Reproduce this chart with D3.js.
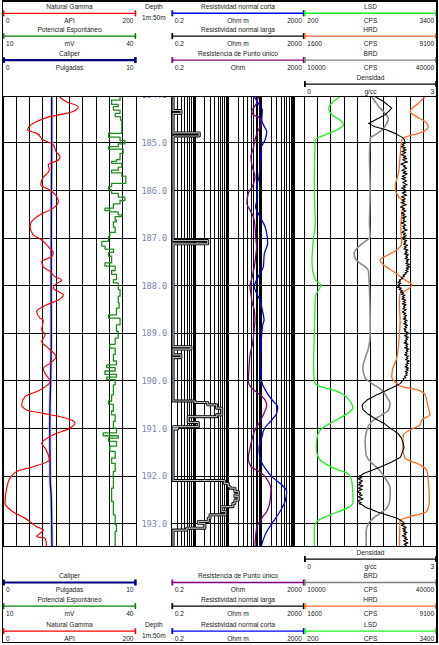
<!DOCTYPE html>
<html><head><meta charset="utf-8">
<script src="https://cdn.jsdelivr.net/npm/d3@7"></script>
<style>html,body{margin:0;padding:0;background:#fff}svg{display:block}</style>
</head><body><svg id="c" width="439" height="645"></svg>
<script>
// ---------------- DATA ----------------
const depthTicks = [184,185,186,187,188,189,190,191,192,193];
const curveNames = ["Natural Gamma","Potencial Espontáneo","Caliper",
  "Resistividad normal corta","Resistividad normal larga","Resistencia de Punto único",
  "LSD","HRD","BRD","Densidad"];
const curveUnits = ["API","mV","Pulgadas","Ohm m","Ohm m","Ohm","CPS","CPS","CPS","g/cc"];
const scaleMin = ["0","10","0","0.2","0.2","0.2","200","1600","10000","0"];
const scaleMax = ["200","40","10","2000","2000","2000","3400","9100","40000","3"];
const depthTitle = ["Depth","1m:50m"];

// [depth m, API]
const gamma = [[184.03,84.7],[184.14,95.8],[184.24,113.2],[184.35,103.3],[184.45,70.7],[184.55,50.7],[184.73,37.1],[184.80,50.7],[184.94,60.6],[185.04,75.6],[185.18,79.7],[185.29,85.7],[185.36,83.2],[185.46,68.1],[185.57,69.6],[185.74,59.7],[185.88,56.7],[185.99,70.7],[186.13,80.8],[186.23,83.2],[186.37,75.6],[186.51,55.6],[186.65,43.2],[186.76,40.6],[186.93,45.6],[187.04,58.2],[187.18,68.1],[187.32,75.6],[187.39,73.2],[187.49,58.2],[187.60,60.6],[187.70,70.7],[187.81,78.2],[187.88,88.3],[187.98,78.2],[188.05,75.6],[188.19,90.7],[188.30,83.2],[188.40,65.7],[188.54,50.7],[188.68,55.6],[188.72,60.6],[188.93,58.2],[189.03,63.2],[189.17,58.2],[189.31,68.1],[189.49,79.7],[189.63,70.7],[189.73,60.6],[189.84,63.2],[190.01,70.7],[190.19,55.6],[190.33,33.1],[190.50,28.1],[190.61,35.6],[190.68,60.6],[190.75,85.7],[190.82,103.3],[190.89,108.3],[190.99,100.8],[191.13,75.6],[191.31,58.2],[191.41,63.2],[191.66,69.6],[191.80,45.6],[191.90,20.6],[192.04,10.5],[192.25,5.6],[192.57,3.0],[192.75,15.5],[192.88,33.1],[193.06,50.7],[193.13,60.6],[193.27,50.7],[193.30,63.2],[193.48,65.7]];

// [depth m, mV] (step samples)
const sp = [[184.03,36.4],[184.10,34.5],[184.19,36.0],[184.24,34.9],[184.31,36.4],[184.38,35.3],[184.45,36.5],[184.52,36.8],[184.80,33.8],[184.88,36.4],[184.95,37.5],[185.02,36.0],[185.08,33.8],[185.13,37.1],[185.22,36.4],[185.35,35.6],[185.39,34.5],[185.43,36.8],[185.51,36.0],[185.57,34.5],[185.63,36.8],[185.70,37.7],[185.85,34.5],[185.92,33.8],[185.98,34.5],[186.06,36.0],[186.14,37.5],[186.21,36.4],[186.28,34.9],[186.37,33.0],[186.42,34.1],[186.45,36.0],[186.51,36.8],[186.55,35.3],[186.62,35.6],[186.66,34.9],[186.77,35.3],[186.88,34.1],[186.97,33.8],[187.07,32.3],[187.17,33.0],[187.23,34.9],[187.30,33.8],[187.38,34.5],[187.52,33.0],[187.59,35.3],[187.68,34.5],[187.76,35.6],[187.87,34.9],[187.94,36.0],[188.08,36.4],[188.22,36.0],[188.36,36.2],[188.47,35.6],[188.61,33.8],[188.68,36.4],[188.82,35.6],[188.96,36.0],[189.10,35.3],[189.23,34.1],[189.31,35.3],[189.44,34.9],[189.58,35.6],[189.66,33.4],[189.72,35.3],[189.79,33.0],[189.86,35.6],[189.92,33.4],[189.97,35.3],[190.08,34.9],[190.29,34.5],[190.42,33.8],[190.49,34.9],[190.63,34.5],[190.71,35.3],[190.85,34.9],[190.99,35.6],[191.09,32.6],[191.15,36.0],[191.20,33.8],[191.27,35.6],[191.37,34.1],[191.48,35.3],[191.62,34.5],[191.73,35.3],[191.90,34.9],[192.25,34.5],[192.53,34.9],[192.81,35.3],[193.02,35.6],[193.16,35.3],[193.48,35.8]];

// [depth m, inches]
const caliper = [[184.03,3.66],[185.0,3.66],[186.0,3.64],[187.0,3.63],[188.0,3.62],[189.0,3.63],[189.5,3.61],[190.0,3.58],[190.6,3.53],[191.0,3.52],[191.5,3.53],[192.1,3.55],[192.4,3.62],[193.0,3.66],[193.48,3.68]];

// [depth m, ohm m]
const resShort = [[184.03,62],[184.17,82],[184.31,108],[184.52,104],[184.66,125],[184.76,147],[184.94,131],[185.11,99],[185.29,99],[185.50,92],[185.71,86],[185.92,73],[186.13,78],[186.34,68],[186.55,92],[186.76,131],[186.90,147],[187.11,157],[187.32,125],[187.60,116],[187.81,82],[188.02,62],[188.16,73],[188.30,92],[188.51,108],[188.72,122],[188.82,111],[189.03,104],[189.24,99],[189.52,92],[189.80,99],[190.01,104],[190.29,164],[190.43,233],[190.54,315],[190.68,293],[190.82,207],[191.00,125],[191.20,104],[191.41,86],[191.62,92],[191.83,131],[192.04,233],[192.18,415],[192.32,588],[192.53,524],[192.74,370],[192.95,233],[193.16,147],[193.48,100]];

// [depth m, ohm m] (step samples)
const resLong = [[184.03,0.22],[184.32,0.38],[184.38,0.22],[184.79,1.36],[184.855,0.22],[187.05,2.44],[187.12,0.22],[189.28,0.76],[189.33,0.22],[189.45,0.38],[189.51,0.22],[190.42,1.01],[190.45,2.44],[190.50,4.55],[190.57,6.44],[190.71,4.55],[190.75,0.63],[190.87,1.27],[190.96,0.22],[190.99,0.30],[191.01,0.22],[192.09,7.72],[192.15,10.2],[192.22,11.5],[192.25,16.2],[192.32,20.4],[192.39,16.2],[192.43,20.4],[192.50,16.2],[192.57,14.0],[192.64,6.44],[192.74,8.5],[192.81,2.86],[192.88,2.54],[192.95,1.27],[192.99,2.0],[193.09,0.57],[193.13,0.22],[193.48,0.22]];

// [depth m, ohm]
const resPoint = [[184.03,82],[184.17,73],[184.34,52],[184.41,58],[184.48,92],[184.59,104],[184.73,82],[184.94,65],[185.11,58],[185.29,49],[185.50,54],[185.71,65],[185.92,54],[186.06,41],[186.27,37],[186.41,46],[186.55,58],[186.76,65],[186.97,68],[187.18,73],[187.39,68],[187.60,62],[187.81,54],[188.02,46],[188.16,49],[188.37,54],[188.51,62],[188.72,65],[188.89,62],[189.24,54],[189.45,46],[189.73,43],[190.01,41],[190.15,52],[190.29,92],[190.40,131],[190.50,147],[190.71,116],[190.85,92],[191.03,65],[191.20,54],[191.41,46],[191.62,41],[191.80,49],[191.87,73],[191.97,116],[192.11,164],[192.25,198],[192.53,185],[192.74,147],[192.88,104],[193.09,73],[193.48,65]];

// [depth m, CPS]
const lsd = [[184.03,1052],[184.13,907],[184.27,787],[184.41,867],[184.52,1068],[184.62,1148],[184.73,988],[184.83,706],[184.94,465],[185.29,449],[185.99,441],[186.69,465],[186.97,425],[187.53,385],[187.88,465],[187.98,602],[188.09,546],[188.23,465],[188.72,449],[189.03,441],[189.66,425],[190.01,441],[190.12,586],[190.19,907],[190.29,1148],[190.43,1309],[190.57,1374],[190.64,1309],[190.85,907],[191.03,586],[191.20,506],[191.41,489],[191.62,546],[191.83,907],[191.97,1293],[192.11,1349],[192.39,1374],[192.57,1374],[192.67,1229],[192.81,827],[192.95,506],[193.09,441],[193.48,441]];

const hrd = [[184.03,8439],[184.17,8062],[184.34,7591],[184.45,7968],[184.55,8439],[184.66,8627],[184.79,8156],[184.87,7403],[184.94,7120],[185.29,7026],[185.64,6932],[185.92,6743],[186.13,6932],[186.23,7214],[186.48,7120],[186.83,7064],[187.11,7120],[187.25,6837],[187.35,6366],[187.46,5895],[187.56,6084],[187.70,6649],[187.88,7308],[187.98,7685],[188.09,7403],[188.16,7026],[188.37,6988],[188.72,7026],[189.03,6988],[189.52,6837],[189.73,6611],[189.91,6555],[190.05,6837],[190.12,7120],[190.19,8062],[190.29,8439],[190.57,8627],[190.71,8721],[190.82,8250],[190.92,8156],[191.03,7591],[191.13,7214],[191.41,7176],[191.62,7308],[191.76,8156],[191.87,8533],[192.11,8627],[192.53,8684],[192.74,8533],[192.85,7591],[192.92,7026],[193.48,6988]];

const brd = [[184.03,25300],[184.13,26050],[184.27,27180],[184.38,28310],[184.48,29070],[184.59,28690],[184.73,27560],[184.83,26050],[184.90,24920],[185.29,24770],[185.99,24920],[186.69,24770],[186.97,24920],[187.07,23790],[187.18,22280],[187.32,21300],[187.42,21530],[187.53,22660],[187.60,23790],[187.70,24540],[188.09,24770],[188.72,24920],[189.03,24920],[189.31,24540],[189.52,23790],[189.73,23260],[189.94,23790],[190.05,25300],[190.19,27560],[190.36,28840],[190.47,29440],[190.61,29070],[190.71,27560],[190.82,25670],[191.03,24170],[191.27,23790],[191.55,24020],[191.69,24920],[191.87,27030],[192.04,28310],[192.25,29440],[192.46,29440],[192.67,28690],[192.85,26050],[192.99,24540],[193.16,24020],[193.48,24020]];

// [depth m, g/cc]
const density = [[184.03,1.605],[184.13,1.793],[184.27,1.982],[184.41,1.831],[184.52,1.605],[184.59,1.454],[184.66,1.605],[184.73,1.869],[184.80,2.057],[184.90,2.246],[184.95,2.27],
[185.00,2.29],[185.03,2.22],[185.05,2.26],[185.08,2.20],[185.10,2.29],[185.13,2.24],[185.15,2.31],[185.18,2.21],[185.20,2.30],[185.23,2.25],[185.25,2.20],[185.28,2.30],[185.30,2.24],[185.33,2.32],[185.35,2.23],[185.38,2.28],[185.40,2.34],[185.43,2.22],[185.45,2.19],[185.48,2.29],[185.50,2.25],[185.53,2.32],[185.55,2.27],[185.58,2.21],[185.60,2.30],[185.63,2.24],[185.65,2.33],[185.68,2.27],[185.70,2.22],[185.73,2.30],[185.75,2.21],[185.78,2.28],[185.80,2.31],[185.83,2.23],[185.85,2.27],[185.88,2.33],[185.90,2.24],[185.93,2.29],[185.95,2.21],[185.98,2.28],
[186.00,2.24],[186.03,2.30],[186.05,2.22],[186.08,2.27],[186.10,2.32],[186.13,2.20],[186.15,2.25],[186.18,2.29],[186.20,2.22],[186.23,2.28],[186.25,2.19],[186.28,2.26],[186.30,2.31],[186.33,2.21],[186.35,2.18],[186.38,2.27],[186.40,2.23],[186.43,2.30],[186.45,2.25],[186.48,2.20],[186.50,2.28],[186.53,2.23],[186.55,2.31],[186.58,2.22],[186.60,2.27],[186.63,2.24],[186.65,2.30],[186.68,2.20],[186.70,2.25],[186.73,2.30],[186.75,2.23],[186.78,2.28],[186.80,2.24],[186.83,2.33],[186.85,2.26],[186.88,2.21],[186.90,2.29],[186.93,2.25],[186.95,2.31],[186.98,2.23],
[187.00,2.29],[187.03,2.24],[187.05,2.32],[187.08,2.26],[187.10,2.30],[187.13,2.25],[187.15,2.34],[187.18,2.27],[187.20,2.31],[187.23,2.26],[187.25,2.35],[187.28,2.29],[187.30,2.33],[187.33,2.27],[187.35,2.36],[187.38,2.30],[187.40,2.34],[187.43,2.28],[187.45,2.37],[187.48,2.31],[187.50,2.35],[187.53,2.30],[187.55,2.38],[187.58,2.32],[187.60,2.39],[187.63,2.31],[187.65,2.36],[187.68,2.30],[187.70,2.35],[187.73,2.28],[187.75,2.31],[187.78,2.24],[187.80,2.27],[187.83,2.20],[187.85,2.23],[187.88,2.15],[187.90,2.18],[187.93,2.12],[187.95,2.19],[187.98,2.13],
[188.00,2.17],[188.03,2.11],[188.05,2.20],[188.08,2.15],[188.10,2.22],[188.13,2.18],[188.15,2.25],[188.18,2.20],[188.20,2.28],[188.23,2.22],[188.25,2.27],[188.28,2.21],[188.30,2.30],[188.33,2.24],[188.35,2.29],[188.38,2.22],[188.40,2.31],[188.43,2.25],[188.45,2.28],[188.48,2.23],[188.50,2.31],[188.53,2.26],[188.55,2.22],[188.58,2.30],[188.60,2.25],[188.63,2.32],[188.65,2.26],[188.68,2.30],[188.70,2.24],[188.73,2.33],[188.75,2.27],[188.78,2.31],[188.80,2.25],[188.83,2.34],[188.85,2.28],[188.88,2.32],[188.90,2.26],[188.93,2.30],[188.95,2.27],[188.98,2.35],
[189.00,2.29],[189.03,2.33],[189.05,2.27],[189.08,2.36],[189.10,2.30],[189.13,2.34],[189.15,2.28],[189.18,2.32],[189.20,2.26],[189.23,2.35],[189.25,2.30],[189.28,2.34],[189.30,2.27],[189.33,2.37],[189.35,2.31],[189.38,2.35],[189.40,2.29],[189.43,2.33],[189.45,2.27],[189.48,2.36],[189.50,2.31],[189.53,2.35],[189.55,2.29],[189.58,2.38],[189.60,2.32],[189.63,2.36],[189.65,2.30],[189.68,2.34],[189.70,2.28],[189.73,2.36],[189.75,2.31],[189.78,2.35],[189.80,2.29],[189.83,2.34],[189.85,2.30],[189.88,2.33],[189.90,2.27],[189.93,2.30],[189.95,2.24],[189.98,2.25],
[190.00,2.22],[190.05,2.18],[190.10,2.08],[190.20,1.86],[190.30,1.62],[190.40,1.42],[190.50,1.31],[190.60,1.33],[190.70,1.45],[190.80,1.62],[190.90,1.82],[191.00,1.96],[191.10,2.12],[191.20,2.20],[191.30,2.24],[191.40,2.26],[191.50,2.22],[191.60,2.18],[191.70,1.98],[191.80,1.74],[191.87,1.55],[191.92,1.40],[191.95,1.33],
[191.98,1.29],[192.00,1.24],[192.03,1.30],[192.05,1.22],[192.08,1.27],[192.10,1.32],[192.13,1.24],[192.15,1.29],[192.18,1.21],[192.20,1.33],[192.23,1.26],[192.25,1.23],[192.28,1.31],[192.30,1.25],[192.33,1.20],[192.35,1.28],[192.38,1.24],[192.40,1.31],[192.43,1.22],[192.45,1.27],[192.48,1.33],[192.50,1.25],[192.53,1.21],[192.55,1.29],[192.58,1.24],[192.60,1.31],[192.65,1.38],[192.70,1.52],[192.75,1.66],[192.80,1.82],[192.85,2.00],[192.90,2.14],[192.95,2.22],
[193.00,2.28],[193.03,2.20],[193.05,2.26],[193.08,2.31],[193.10,2.23],[193.13,2.29],[193.15,2.24],[193.18,2.33],[193.20,2.26],[193.23,2.30],[193.25,2.22],[193.28,2.31],[193.30,2.27],[193.33,2.34],[193.35,2.25],[193.38,2.30],[193.40,2.35],[193.43,2.26],[193.45,2.31],[193.48,2.28]];

// ---------------- LAYOUT ----------------
const svg = d3.select("#c");
const FONT = "'Liberation Sans', Arial, sans-serif";
const Y0 = 96.7, Y1 = 546.7;
const T = [[3,136],[171.7,304.3],[304.3,436.7]];
const TD = [136,171.7];
const y = d3.scaleLinear().domain([184.03,193.48]).range([Y0,Y1]);

const xGR  = d3.scaleLinear().domain([0,200]).range(T[0]);
const xSP  = d3.scaleLinear().domain([10,40]).range(T[0]);
const xCAL = d3.scaleLinear().domain([0,10]).range(T[0]);
const xRes = d3.scaleLog().domain([0.2,2000]).range(T[1]);
const xLSD = d3.scaleLinear().domain([200,3400]).range(T[2]);
const xHRD = d3.scaleLinear().domain([1600,9100]).range(T[2]);
const xBRD = d3.scaleLinear().domain([10000,40000]).range(T[2]);
const xDEN = d3.scaleLinear().domain([0,3]).range(T[2]);

const defs = svg.append("defs");
function clip(id,x0,x1){
  defs.append("clipPath").attr("id",id).append("rect")
    .attr("x",x0).attr("y",Y0).attr("width",x1-x0).attr("height",Y1-Y0);
}
clip("c0",T[0][0],T[0][1]); clip("c1",T[1][0],T[1][1]); clip("c2",T[2][0],T[2][1]); clip("cd",TD[0],TD[1]);

// ---------- grid ----------
const grid = svg.append("g").attr("stroke","#000").attr("shape-rendering","crispEdges");
[0,2].forEach(ti=>{
  const gx = d3.scaleLinear().domain([0,10]).range(T[ti]);
  gx.ticks(10).forEach(v=>{
    grid.append("line").attr("x1",gx(v)).attr("x2",gx(v)).attr("y1",Y0).attr("y2",Y1).attr("stroke-width",1);
  });
});
// log grid
const logVals = [];
[0.1,1,10,100,1000].forEach(dec=>{ for(let k=1;k<=9;k++){ const v=+(k*dec).toPrecision(3); if(v>=0.2 && v<=2000) logVals.push(v);} });
logVals.forEach(v=>{
  const major = [1,10,100,1000].includes(v);
  grid.append("line").attr("x1",xRes(v)).attr("x2",xRes(v)).attr("y1",Y0).attr("y2",Y1)
    .attr("stroke-width", major?2:1);
});
grid.append("line").attr("x1",xRes(2000)).attr("x2",xRes(2000)).attr("y1",Y0).attr("y2",Y1).attr("stroke-width",1);
// meter lines
const inDom = depthTicks.filter(d=>y(d)>=Y0 && y(d)<=Y1);
T.forEach(tr=>{
  inDom.forEach(d=>{
    grid.append("line").attr("x1",tr[0]).attr("x2",tr[1]).attr("y1",y(d)).attr("y2",y(d)).attr("stroke-width",1);
  });
});

// ---------- depth labels ----------
const dl = svg.append("g").attr("clip-path","url(#cd)");
depthTicks.forEach(d=>{
  dl.append("text").attr("x",(TD[0]+TD[1])/2+0.5).attr("y",y(d)).attr("dy","0.35em")
    .attr("text-anchor","middle").attr("font-family","'DejaVu Sans Mono', monospace")
    .attr("font-size",8.6).attr("fill","#7886ad").text(d3.format(".1f")(d));
});

// ---------- curves ----------
function draw(data, xs, clipId, color, w, curve){
  const line = d3.line().x(p=>xs(p[1])).y(p=>y(p[0])).curve(curve||d3.curveLinear);
  return svg.append("path").attr("clip-path",`url(#${clipId})`).attr("d",line(data))
    .attr("fill","none").attr("stroke",color).attr("stroke-width",w).attr("stroke-linejoin","round");
}
draw(sp, xSP, "c0", "#1e8c1e", 1.3, d3.curveStepBefore);
draw(caliper, xCAL, "c0", "#c4c4ec", 3, d3.curveMonotoneY);
draw(caliper, xCAL, "c0", "#000080", 1.4, d3.curveMonotoneY);
draw(gamma, xGR, "c0", "#ff0000", 1.2, d3.curveMonotoneY);

draw(resLong, xRes, "c1", "#000", 3, d3.curveStepBefore);
draw(resLong, xRes, "c1", "#b4b4b4", 1.2, d3.curveStepBefore);
draw(resPoint, xRes, "c1", "#800080", 1.3, d3.curveMonotoneY);
draw(resShort, xRes, "c1", "#0000ff", 1.3, d3.curveMonotoneY);

draw(brd, xBRD, "c2", "#8c8c8c", 1.6, d3.curveMonotoneY);
draw(lsd, xLSD, "c2", "#22ee22", 1.3, d3.curveMonotoneY);
draw(hrd, xHRD, "c2", "#ff6a28", 1.3, d3.curveMonotoneY);
draw(density, xDEN, "c2", "#000", 1.1, d3.curveLinear);

// ---------- headers ----------
const hdrTrack = [0,0,0,1,1,1,2,2,2,2];
const hdrRow   = [0,1,2,0,1,2,0,1,2,3];
const hdrColor = ["#ff0000","#008000","#000080","#0000ff","#000000","#800080","#22ee22","#ff6a28","#808080","#000000"];
const hdrWidth = [1.2,1.2,2.2,1.4,1.4,1.4,1.4,1.4,1.4,1.4];
const topRowY  = [6.5,29.3,53.3,77.3];
const footRowY = [624.3,599.3,575.7,552.3];

function header(rowY){
  const g = svg.append("g").attr("font-family",FONT).attr("font-size",6.6).attr("fill","#222");
  curveNames.forEach((name,i)=>{
    const tr = T[hdrTrack[i]], ty = rowY[hdrRow[i]], cx=(tr[0]+tr[1])/2;
    g.append("text").attr("x",cx).attr("y",ty).attr("dy","0.35em").attr("text-anchor","middle").text(name);
    const ly = ty+6.8;
    g.append("line").attr("x1",tr[0]).attr("x2",tr[1]).attr("y1",ly).attr("y2",ly)
      .attr("stroke",hdrColor[i]).attr("stroke-width",hdrWidth[i]);
    [tr[0]+0.6,tr[1]-0.6].forEach(tx=>{
      g.append("line").attr("x1",tx).attr("x2",tx).attr("y1",ly-3).attr("y2",ly+3)
        .attr("stroke",hdrColor[i]).attr("stroke-width",hdrWidth[i]+0.4);
    });
    const lyT = ty+14;
    g.append("text").attr("x",tr[0]+3).attr("y",lyT).attr("dy","0.35em").attr("text-anchor","start").text(scaleMin[i]);
    g.append("text").attr("x",cx).attr("y",lyT).attr("dy","0.35em").attr("text-anchor","middle").text(curveUnits[i]);
    g.append("text").attr("x",tr[1]-2.5).attr("y",lyT).attr("dy","0.35em").attr("text-anchor","end").text(scaleMax[i]);
  });
  const cx=(TD[0]+TD[1])/2;
  g.append("text").attr("x",cx).attr("y",rowY[0]).attr("dy","0.35em").attr("text-anchor","middle").text(depthTitle[0]);
  g.append("text").attr("x",cx).attr("y",rowY[0]+11.5).attr("dy","0.35em").attr("text-anchor","middle").text(depthTitle[1]);
}
header(topRowY);
header(footRowY);

// ---------- frames ----------
const fr = svg.append("g").attr("stroke","#000").attr("fill","none").attr("shape-rendering","crispEdges");
fr.append("rect").attr("x",2.5).attr("y",1).attr("width",434.5).attr("height",641.5).attr("stroke-width",1.2);
fr.append("line").attr("x1",2.5).attr("x2",437).attr("y1",Y0).attr("y2",Y0).attr("stroke-width",1.2);
fr.append("line").attr("x1",2.5).attr("x2",437).attr("y1",Y1).attr("y2",Y1).attr("stroke-width",1.2);
[TD[0],TD[1]].forEach(x=>fr.append("line").attr("x1",x).attr("x2",x).attr("y1",Y0).attr("y2",Y1).attr("stroke-width",1));
</script>
</body></html>
